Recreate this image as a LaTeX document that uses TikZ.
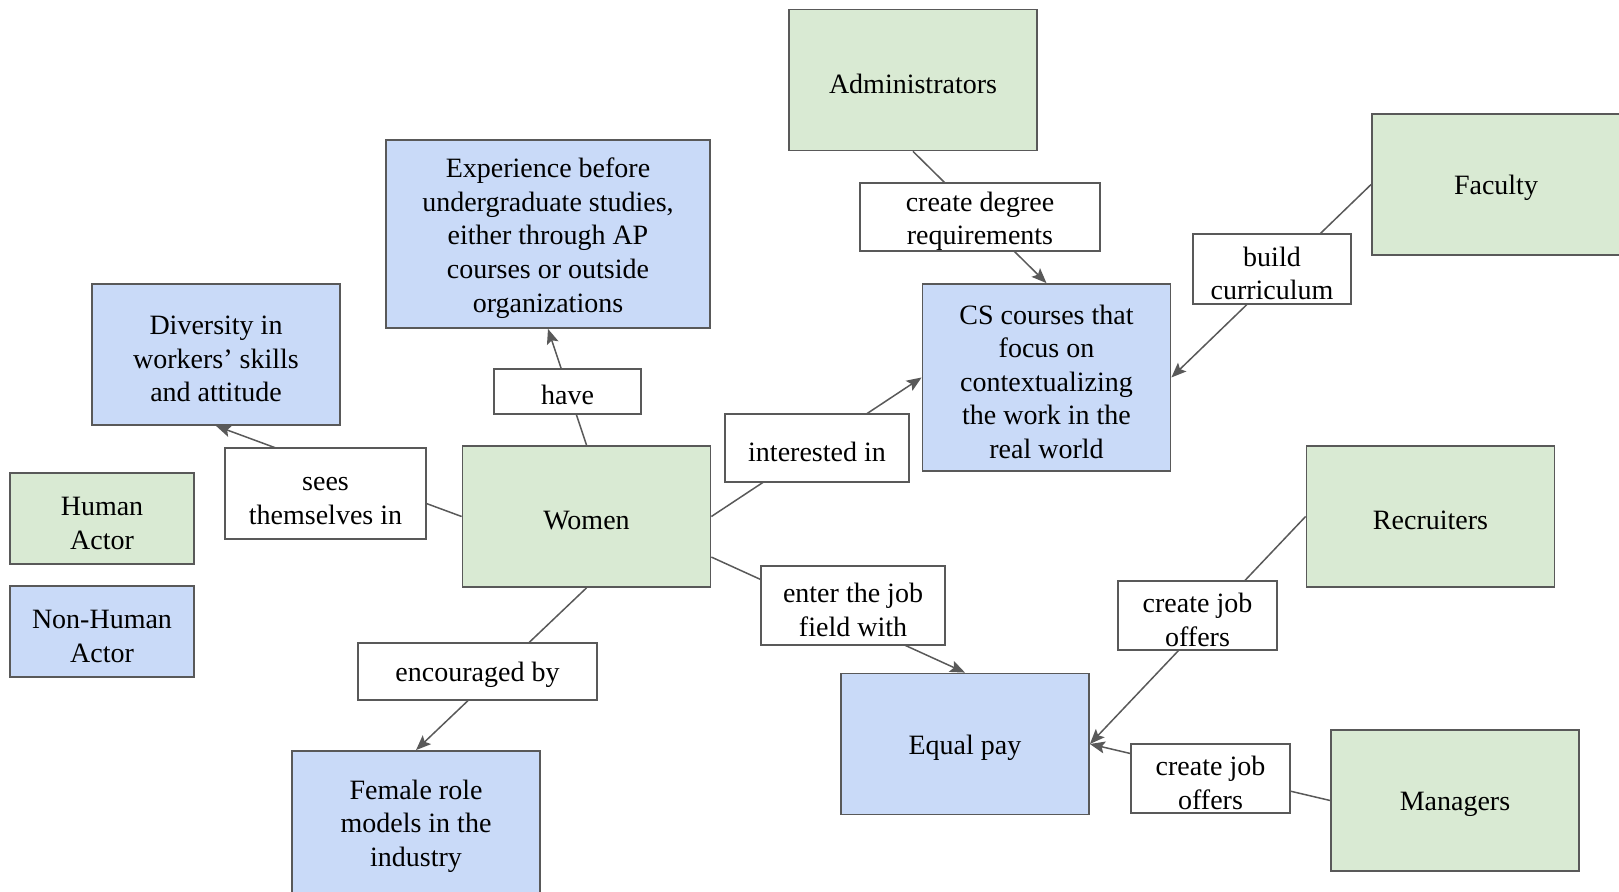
\documentclass[tikz,border=0pt]{standalone}
\usepackage{fontspec}
\setmainfont{Liberation Serif}
\usetikzlibrary{arrows.meta}

\definecolor{humangreen}{HTML}{D9EAD3}
\definecolor{thingblue}{HTML}{C9DAF8}
\definecolor{edgegray}{HTML}{595959}

\newcommand{\firstrow}{\rule{0pt}{14pt}}

\tikzset{
  box/.style={draw=edgegray, line width=0.9pt, align=center, inner sep=0pt,
    font=\fontsize{14}{16.8}\selectfont, execute at begin node={\rule{0pt}{13.5pt}}},
  human/.style={box, fill=humangreen, minimum width=124pt, minimum height=70.5pt},
  thing/.style={box, fill=thingblue, minimum width=124pt, minimum height=70.5pt},
  verb/.style={box, fill=white},
  link/.style={edgegray, line width=0.75pt},
  linkto/.style={link, -{Stealth[length=7.5pt,width=6pt,inset=1.5pt]}},
}

\begin{document}
\begin{tikzpicture}[x=0.5pt,y=-0.5pt]
  \useasboundingbox (0,0) rectangle (1619,892);

  \node[human] (adm) at (913,80) {Administrators};
  \node[human] (fac) at (1496,184.5) {Faculty};
  \node[human] (women) at (586.5,516.5) {Women};
  \node[human] (rec) at (1430.5,516.5) {Recruiters};
  \node[human] (mgr) at (1455,800.5) {Managers};
  \node[human, minimum width=92pt, minimum height=45.5pt] (human) at (102,518.5) {\firstrow Human\\Actor};

  \node[thing, minimum width=162pt, minimum height=94pt] (exp) at (548,234)
    {\firstrow Experience before\\undergraduate studies,\\either through AP\\courses or outside\\organizations};
  \node[thing] (div) at (216,354.5) {\firstrow Diversity in\\workers’ skills\\and attitude};
  \node[thing, minimum height=93.5pt] (cs) at (1046.5,377.5)
    {\firstrow CS courses that\\focus on\\contextualizing\\the work in the\\real world};
  \node[thing] (equal) at (965,744) {Equal pay};
  \node[thing, minimum height=71pt] (fem) at (416,822) {\firstrow Female role\\models in the\\industry};
  \node[thing, minimum width=92pt, minimum height=45.5pt] (nonhuman) at (102,631.5) {\firstrow Non-Human\\Actor};

  \draw[linkto] (women.north) -- (exp.south);
  \draw[linkto] (women.west) -- (div.south);
  \draw[linkto] (women.east) -- (cs.west);
  \draw[linkto] (women.south) -- (fem.north);
  \draw[linkto] (women.-18) -- (equal.north);
  \draw[linkto] (adm.south) -- (cs.north);
  \draw[linkto] (fac.west) -- (cs.east);
  \draw[linkto] (rec.west) -- (equal.east);
  \draw[linkto] (mgr.west) -- (equal.east);

  \node[verb, minimum width=73.5pt, minimum height=22.5pt] (have) at (567.5,391.5) {have};
  \node[verb, minimum width=100.5pt, minimum height=45.5pt] (sees) at (325.5,493.5) {\firstrow sees\\themselves in};
  \node[verb, minimum width=92pt, minimum height=34pt] (interested) at (817,448) {interested in};
  \node[verb, minimum width=119.5pt, minimum height=28.5pt] (encouraged) at (477.5,671.5) {encouraged by};
  \node[verb, minimum width=92pt, minimum height=39.5pt] (enter) at (853,605.5) {\firstrow enter the job\\field with};
  \node[verb, minimum width=120pt, minimum height=34pt] (degree) at (980,217) {\firstrow create degree\\requirements};
  \node[verb, minimum width=79pt, minimum height=35pt] (build) at (1272,269) {\firstrow build\\curriculum};
  \node[verb, minimum width=79.5pt, minimum height=34.5pt] (offersrec) at (1197.5,615.5) {\firstrow create job\\offers};
  \node[verb, minimum width=79.5pt, minimum height=34.5pt] (offersmgr) at (1210.5,778.5) {\firstrow create job\\offers};
\end{tikzpicture}
\end{document}
